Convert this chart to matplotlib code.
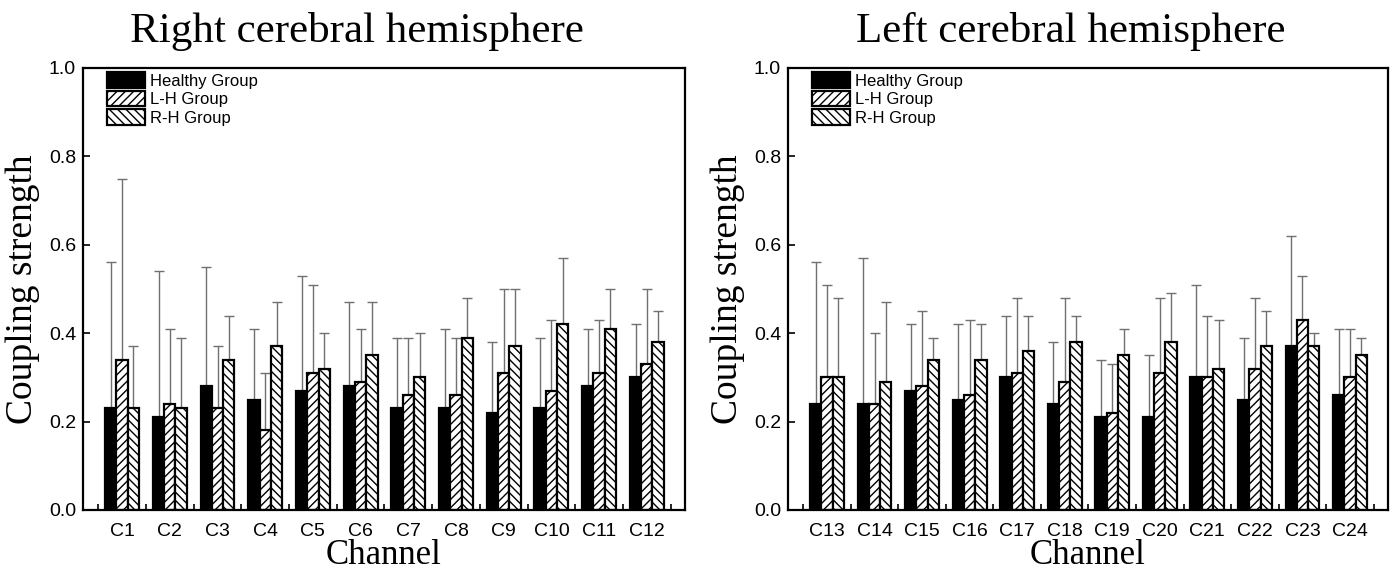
import matplotlib
matplotlib.use("Agg")
import matplotlib.pyplot as plt
import numpy as np

plt.rcParams['hatch.linewidth'] = 1.0

groups = ["Healthy Group", "L-H Group", "R-H Group"]

right_channels = ["C1", "C2", "C3", "C4", "C5", "C6", "C7", "C8", "C9", "C10", "C11", "C12"]
right_healthy = [0.23, 0.21, 0.28, 0.25, 0.27, 0.28, 0.23, 0.23, 0.22, 0.23, 0.28, 0.30]
right_healthy_sd = [0.33, 0.33, 0.27, 0.16, 0.26, 0.19, 0.16, 0.18, 0.16, 0.16, 0.13, 0.12]
right_lh = [0.34, 0.24, 0.23, 0.18, 0.31, 0.29, 0.26, 0.26, 0.31, 0.27, 0.31, 0.33]
right_lh_sd = [0.41, 0.17, 0.14, 0.13, 0.20, 0.12, 0.13, 0.13, 0.19, 0.16, 0.12, 0.17]
right_rh = [0.23, 0.23, 0.34, 0.37, 0.32, 0.35, 0.30, 0.39, 0.37, 0.42, 0.41, 0.38]
right_rh_sd = [0.14, 0.16, 0.10, 0.10, 0.08, 0.12, 0.10, 0.09, 0.13, 0.15, 0.09, 0.07]

left_channels = ["C13", "C14", "C15", "C16", "C17", "C18", "C19", "C20", "C21", "C22", "C23", "C24"]
left_healthy = [0.24, 0.24, 0.27, 0.25, 0.30, 0.24, 0.21, 0.21, 0.30, 0.25, 0.37, 0.26]
left_healthy_sd = [0.32, 0.33, 0.15, 0.17, 0.14, 0.14, 0.13, 0.14, 0.21, 0.14, 0.25, 0.15]
left_lh = [0.30, 0.24, 0.28, 0.26, 0.31, 0.29, 0.22, 0.31, 0.30, 0.32, 0.43, 0.30]
left_lh_sd = [0.21, 0.16, 0.17, 0.17, 0.17, 0.19, 0.11, 0.17, 0.14, 0.16, 0.10, 0.11]
left_rh = [0.30, 0.29, 0.34, 0.34, 0.36, 0.38, 0.35, 0.38, 0.32, 0.37, 0.37, 0.35]
left_rh_sd = [0.18, 0.18, 0.05, 0.08, 0.08, 0.06, 0.06, 0.11, 0.11, 0.08, 0.03, 0.04]

serif = "Liberation Serif"
sans = "Liberation Sans"

fig = plt.figure(figsize=(13.96, 5.75), dpi=100)
ax_r = fig.add_axes([83 / 1396, 65 / 575, 602 / 1396, 442 / 575])
ax_l = fig.add_axes([788 / 1396, 65 / 575, 600 / 1396, 442 / 575])


def draw_panel(ax, channels, series, sds):
    x = np.arange(1, len(channels) + 1)
    w = 0.237
    styles = [dict(color="black", hatch=None),
              dict(color="white", hatch="////"),
              dict(color="white", hatch="\\\\\\\\")]
    handles = []
    for k, (vals, sd, st) in enumerate(zip(series, sds, styles)):
        pos = x + (k - 1) * w
        b = ax.bar(pos, vals, width=w, color=st["color"], hatch=st["hatch"],
                   edgecolor="black", linewidth=1.6, zorder=2)
        ax.errorbar(pos, vals, yerr=[np.zeros(len(sd)), sd], fmt="none",
                    ecolor="#707070", elinewidth=1.0, capsize=3.5,
                    capthick=1.0, zorder=1)
        handles.append(b)
    ax.set_xlim(0.18, 12.8)
    ax.set_ylim(0, 1.0)
    ax.set_xticks(x)
    ax.set_xticklabels(channels, fontfamily=sans, fontsize=14)
    ax.set_xticks(np.arange(0.5, 13, 1.0), minor=True)
    ax.tick_params(axis="x", which="major", length=0, pad=9)
    ax.tick_params(axis="x", which="minor", direction="in", length=4, width=1.2)
    ax.set_yticks(np.arange(0, 1.01, 0.2))
    ax.set_yticklabels(["%.1f" % v for v in np.arange(0, 1.01, 0.2)],
                       fontfamily=sans, fontsize=14)
    ax.tick_params(axis="y", direction="in", length=5, width=1.2, pad=5)
    for s in ax.spines.values():
        s.set_linewidth(1.6)
    ax.set_xlabel("Channel", fontfamily=serif, fontsize=25, labelpad=0)
    ax.set_ylabel("Coupling strength", fontfamily=serif, fontsize=27, labelpad=6)
    ax.legend(handles, groups, loc="upper left", bbox_to_anchor=(0.04, 0.99),
              frameon=False, borderpad=0, borderaxespad=0, handlelength=2.3,
              handleheight=1.05, labelspacing=0.12, handletextpad=0.3,
              prop={"family": sans, "size": 12})


draw_panel(ax_r, right_channels, [right_healthy, right_lh, right_rh],
           [right_healthy_sd, right_lh_sd, right_rh_sd])
draw_panel(ax_l, left_channels, [left_healthy, left_lh, left_rh],
           [left_healthy_sd, left_lh_sd, left_rh_sd])

fig.text(357 / 1396, 1 - 42 / 575, "Right cerebral hemisphere", ha="center",
         va="baseline", fontfamily=serif, fontsize=31)
fig.text(1071 / 1396, 1 - 42 / 575, "Left cerebral hemisphere", ha="center",
         va="baseline", fontfamily=serif, fontsize=31)

fig.savefig("out.png", dpi=100)
